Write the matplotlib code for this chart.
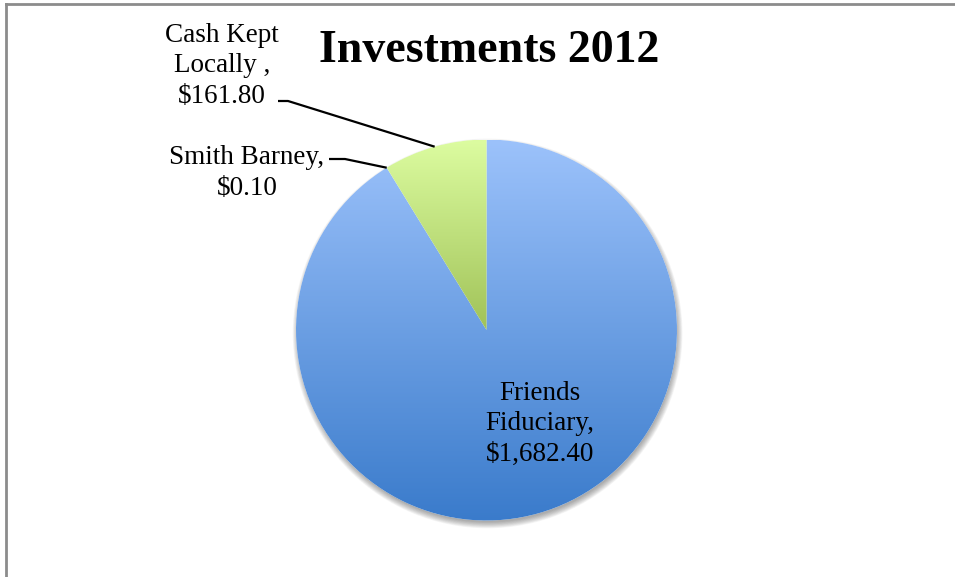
import numpy as np
import matplotlib
matplotlib.use("Agg")
import matplotlib.pyplot as plt
from matplotlib.patches import Circle
from matplotlib.lines import Line2D
from matplotlib.colors import to_rgb

# ---- data ----
categories = ["Friends Fiduciary", "Smith Barney", "Cash Kept Locally"]
values = [1682.40, 0.10, 161.80]
label_texts = ["Friends\nFiduciary,\n$1,682.40", "Smith Barney,\n$0.10", "Cash Kept\nLocally ,\n$161.80"]
title = "Investments 2012"

# gradient colours (top, bottom) per slice
grad_colors = [("#9cc2fb", "#3a7bcb"), ("#9cc2fb", "#3a7bcb"), ("#dcfca0", "#64880f")]

W, H = 955, 577
fig = plt.figure(figsize=(W / 100, H / 100), dpi=100)
fig.patch.set_facecolor("white")

# pie axes placement (pixels)
cx, cy, R = 486.5, 330.0, 190.5
ax = fig.add_axes([(cx - R) / W, 1 - (cy + R) / H, 2 * R / W, 2 * R / H])
ax.set_xlim(-1, 1)
ax.set_ylim(-1, 1)
ax.axis("off")

def px2d(x, y):
    return ((x - cx) / R, (cy - y) / R)

# soft shadow
for i in range(12):
    ax.add_patch(Circle((0.006, -0.018), 0.99 + 0.003 * i, color="#404040",
                        alpha=0.045, lw=0, zorder=0, clip_on=False))
ax.add_patch(Circle((0, 0), 1.0, color="white", lw=0, zorder=0.5, clip_on=False))

wedges, _ = ax.pie(values, startangle=90, counterclock=False, radius=1,
                   center=(0, 0), frame=True,
                   wedgeprops=dict(linewidth=0, edgecolor="none"))
ax.set_xlim(-1, 1)
ax.set_ylim(-1, 1)
ax.axis("off")

N = 400
for w, (ctop, cbot) in zip(wedges, grad_colors):
    w.set_facecolor("none")
    t = np.linspace(0, 1, N)[:, None]
    a, b = np.array(to_rgb(ctop)), np.array(to_rgb(cbot))
    img = (a[None, :] * (1 - t) + b[None, :] * t)[:, None, :]
    im = ax.imshow(img, extent=(-1, 1, -1, 1), origin="upper", aspect="auto",
                   interpolation="bilinear", zorder=1)
    im.set_clip_path(w)

font = "Liberation Serif"
fs = 19.5

# labels
label_pos_px = [(540, 424), (247, 173), (222, 66)]
for txt, (lx, ly) in zip(label_texts, label_pos_px):
    x, y = px2d(lx, ly)
    ax.text(x, y, txt, ha="center", va="center", fontsize=fs, family=font,
            linespacing=1.28, zorder=5, clip_on=False)

# leader lines from wedge mid-angles
elbows_px = {1: [(329, 159), (345, 159)], 2: [(278, 101), (288, 101)]}
for idx, pts in elbows_px.items():
    w = wedges[idx]
    ang = np.deg2rad((w.theta1 + w.theta2) / 2)
    ex, ey = np.cos(ang), np.sin(ang)
    p0 = px2d(*pts[0]); p1 = px2d(*pts[1])
    ax.plot([p0[0], p1[0], ex], [p0[1], p1[1], ey], color="black", lw=1.6,
            zorder=6, clip_on=False, solid_capstyle="butt")

fig.text(489 / W, 1 - 51 / H, title, ha="center", va="center", fontsize=33,
         fontweight="bold", family=font)

# outer frame (top and left visible)
fig.add_artist(Line2D([6 / W, 6 / W], [0, 1 - 3.5 / H], color="#8c8c8c", lw=2))
fig.add_artist(Line2D([6 / W, 1], [1 - 3.5 / H, 1 - 3.5 / H], color="#8c8c8c", lw=2))

fig.savefig("out.png", dpi=100)
